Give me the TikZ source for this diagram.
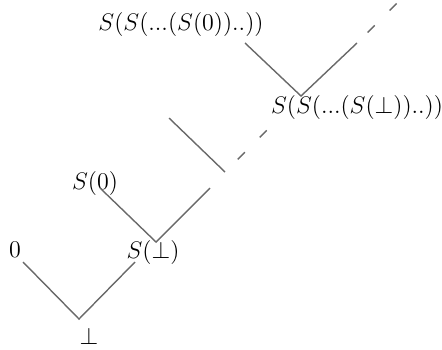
\documentclass[tikz,border=0pt]{standalone}
\usepackage{amsmath}
\usepackage{tikz}
\usetikzlibrary{positioning}
\definecolor{cLine}{RGB}{105,105,105}
\tikzset{
	elem/.style   ={inner sep=1pt, font=\fontsize{11.7}{14}\selectfont},
	order/.style  ={draw=cLine, line width=0.7pt},
	gap/.style    ={order, dash pattern=on 5pt off 10.5pt, dash phase=#1},
	gap/.default  =6.5pt,
}

\begin{document}
\begin{tikzpicture}[x=0.5pt, y=-0.5pt]
	\useasboundingbox (0,0) rectangle (442,349);
	\clip (0,0) rectangle (442,349);
	% labels
	\node[elem] (bot)   at (89,336)  {$\bot$};
	\node[elem] (zero)  at (15,250)  {$0$};
	\node[elem] (sbot)  at (153,252) {$S(\bot)$};
	\node[elem] (szero) at (95,183)  {$S(0)$};
	\node[elem] (snbot) at (357,107) {$S(S(...(S(\bot))..))$};
	\node[elem] (snzero) at (181,24) {$S(S(...(S(0))..))$};
	% ends of the order lines
	\coordinate (v0) at (79,319);  \coordinate (a0) at (23,262);  \coordinate (b0) at (135,262);
	\coordinate (v1) at (156,242); \coordinate (a1) at (100,188); \coordinate (b1) at (210,188);
	\coordinate (v2) at (225,172); \coordinate (a2) at (169,118); \coordinate (b2) at (268,129);
	\coordinate (v3) at (301,96);  \coordinate (a3) at (245,43);  \coordinate (b3) at (357,43);
	\coordinate (c3) at (403,-3);
	\draw[order] (a0) -- (v0) -- (b0);
	\draw[order] (a1) -- (v1) -- (b1);
	\draw[order] (a2) -- (v2);
	\draw[gap] (v2) -- (b2);
	\draw[order] (a3) -- (v3) -- (b3);
	\draw[gap=8pt] (b3) -- (c3);
\end{tikzpicture}
\end{document}
